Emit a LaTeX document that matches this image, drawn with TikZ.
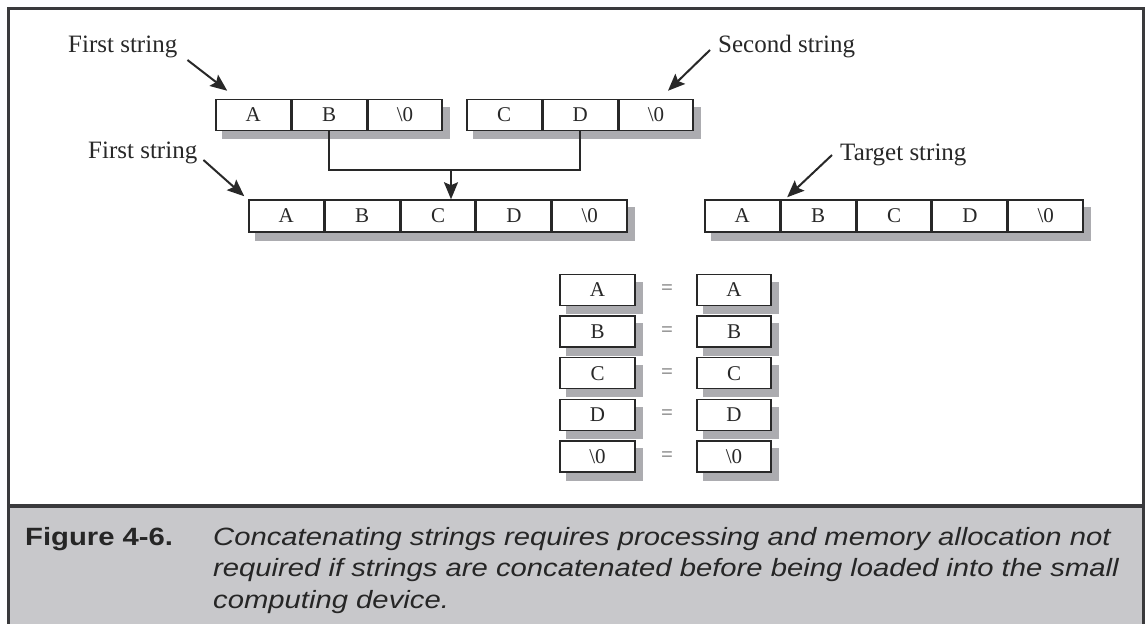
\documentclass[tikz,border=0pt]{standalone}
\usepackage{fontspec}
\setmainfont{Liberation Serif}
\newfontfamily\capfont[FakeStretch=1.17]{Liberation Sans}
\usetikzlibrary{arrows.meta,backgrounds}

\definecolor{framegray}{RGB}{58,58,60}
\definecolor{capgray}{RGB}{200,200,203}
\definecolor{shadowgray}{RGB}{172,172,176}
\definecolor{inkgray}{RGB}{40,40,40}

\tikzset{
  cell/.style={draw=inkgray, fill=white, line width=1.5pt, inner sep=0pt,
    minimum width=74.4pt, minimum height=31pt, text=inkgray,
    font=\fontsize{21}{21}\selectfont},
  label/.style={anchor=base west, inner sep=0pt, text=inkgray,
    font=\fontsize{25}{25}\selectfont},
  pointer/.style={draw=inkgray, line width=2pt,
    -{Stealth[length=17pt,width=14pt,inset=3pt]}},
  link/.style={draw=inkgray, line width=2pt},
  captext/.style={anchor=base west, inner sep=0pt, text=black!85,
    font=\capfont\fontsize{25}{25}\selectfont},
  eqsign/.style={text=black!60, inner sep=0pt, font=\fontsize{21}{21}\selectfont}
}

% shadow behind a run of cells, from first to last
\newcommand{\cellshadow}[2]{%
  \begin{pgfonlayer}{background}
    \fill[shadowgray] ([shift={(7,8)}]#1.north west) rectangle ([shift={(7,8)}]#2.south east);
  \end{pgfonlayer}}

\begin{document}
\begin{tikzpicture}[x=1pt,y=-1pt]
\clip (0,0) rectangle (1147,623);

% page and caption panel, kept underneath the shadows
\begin{pgfonlayer}{background}
  \fill[white] (0,0) rectangle (1147,623);
  \fill[capgray] (8.5,506) rectangle (1143,640);
\end{pgfonlayer}
\draw[framegray, line width=3pt] (8.5,640) -- (8.5,8.5) -- (1143,8.5) -- (1143,640);
\draw[framegray, line width=4.5pt] (8.5,506) -- (1143,506);

% first string
\node[cell] (sa) at (253.2,115) {A};
\node[cell, anchor=west] (sb) at (sa.east) {B};
\node[cell, anchor=west] (sz) at (sb.east) {\textbackslash 0};
\cellshadow{sa}{sz}

% second string
\node[cell] (tc) at (504.2,115) {C};
\node[cell, anchor=west] (td) at (tc.east) {D};
\node[cell, anchor=west] (tz) at (td.east) {\textbackslash 0};
\cellshadow{tc}{tz}

% concatenated first string
\node[cell, minimum height=32pt] (ma) at (286.2,216) {A};
\node[cell, minimum height=32pt, anchor=west] (mb) at (ma.east) {B};
\node[cell, minimum height=32pt, anchor=west] (mc) at (mb.east) {C};
\node[cell, minimum height=32pt, anchor=west] (md) at (mc.east) {D};
\node[cell, minimum height=32pt, anchor=west] (mz) at (md.east) {\textbackslash 0};
\cellshadow{ma}{mz}

% target string
\node[cell, minimum height=32pt] (ga) at (742.2,216) {A};
\node[cell, minimum height=32pt, anchor=west] (gb) at (ga.east) {B};
\node[cell, minimum height=32pt, anchor=west] (gc) at (gb.east) {C};
\node[cell, minimum height=32pt, anchor=west] (gd) at (gc.east) {D};
\node[cell, minimum height=32pt, anchor=west] (gz) at (gd.east) {\textbackslash 0};
\cellshadow{ga}{gz}

% labels
\node[label] (l1) at (68,53) {First string};
\node[label] (l2) at (718,53) {Second string};
\node[label] (l3) at (88,158) {First string};
\node[label] (l4) at (840,160) {Target string};

\draw[pointer] ([shift={(10,7)}]l1.base east) -- ([shift={(12,-8)}]sa.north west);
\draw[pointer] ([shift={(-8,-3)}]l2.base west) -- ([shift={(12,-8)}]tz.north);
\draw[pointer] ([shift={(6,2)}]l3.base east) -- ([shift={(-4,-3)}]ma.north west);
\draw[pointer] ([shift={(-8,-5)}]l4.base west) -- ([shift={(7,-2)}]gb.north west);

% joining the two strings
\coordinate (join) at (451,170);
\draw[link] (sb.south) |- (join) -| (td.south);
\draw[pointer] (join) -- (join |- mc.north);

% element-by-element comparison
\foreach \n/\t [count=\i from 0] in {A/A,B/B,C/C,D/D,Z/\textbackslash 0}{
  \node[cell, minimum width=75pt] (p\n) at (597.5,290+41.6*\i) {\t};
  \node[cell, minimum width=74pt] (q\n) at (734,290+41.6*\i) {\t};
  \node[eqsign] (e\n) at (667,290+41.6*\i) {=};
  \cellshadow{p\n}{p\n}
  \cellshadow{q\n}{q\n}
}

% caption
\node[captext, font=\capfont\bfseries\fontsize{25}{25}\selectfont] (fig) at (25,545) {Figure 4-6.};
\node[captext, font=\capfont\itshape\fontsize{25}{25}\selectfont] (c1) at (213,545) {Concatenating strings requires processing and memory allocation not};
\node[captext, font=\capfont\itshape\fontsize{25}{25}\selectfont] (c2) at (213,576.5) {required if strings are concatenated before being loaded into the small};
\node[captext, font=\capfont\itshape\fontsize{25}{25}\selectfont] (c3) at (213,608) {computing device.};
\end{tikzpicture}
\end{document}
